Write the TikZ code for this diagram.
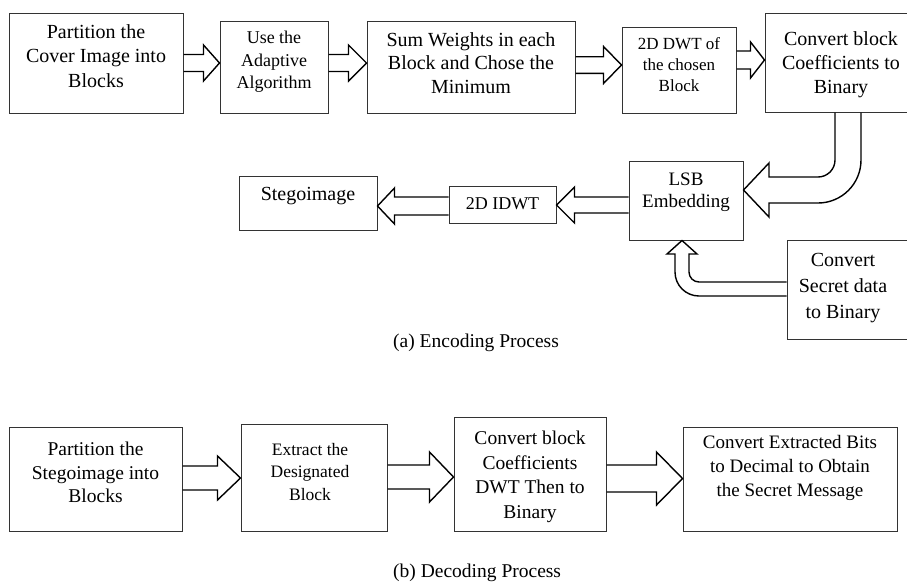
\documentclass[tikz,border=0pt]{standalone}
\usepackage{fontspec}
\setmainfont{Liberation Serif}
\usetikzlibrary{calc}

\tikzset{
  blk/.style={draw=black!80, line width=1pt, inner sep=0pt, fill=white},
  txt/.style={align=center, inner sep=0pt, anchor=north},
  barrow/.style={draw=black, line width=1.4pt, line join=miter},
  captxt/.style={inner sep=0pt, anchor=base west, font=\fontsize{19.5}{23}\selectfont},
}

% box given by its left, top, right and bottom edges
\newcommand{\mkbox}[5]{%
  \pgfmathsetmacro\bw{#4-#2}\pgfmathsetmacro\bh{#5-#3}%
  \pgfmathsetmacro\bx{(#2+#4)/2}\pgfmathsetmacro\by{(#3+#5)/2}%
  \node[blk, minimum width=\bw pt, minimum height=\bh pt] (#1) at (\bx,\by) {};}

% hollow block arrow pointing right: source, target, y centre, shaft half, head half, head length
\newcommand{\arrR}[6]{%
  \pgfmathsetmacro\ya{#3-#4}\pgfmathsetmacro\yb{#3+#4}%
  \pgfmathsetmacro\yc{#3-#5}\pgfmathsetmacro\yd{#3+#5}%
  \draw[barrow] (#1.east |- 0,\ya) -- ($(#2.west |- 0,\ya)+(-#6,0)$)
    -- ($(#2.west |- 0,\yc)+(-#6,0)$) -- (#2.west |- 0,#3)
    -- ($(#2.west |- 0,\yd)+(-#6,0)$) -- ($(#2.west |- 0,\yb)+(-#6,0)$)
    -- (#1.east |- 0,\yb);}

% hollow block arrow pointing left
\newcommand{\arrL}[6]{%
  \pgfmathsetmacro\ya{#3-#4}\pgfmathsetmacro\yb{#3+#4}%
  \pgfmathsetmacro\yc{#3-#5}\pgfmathsetmacro\yd{#3+#5}%
  \draw[barrow] (#1.west |- 0,\ya) -- ($(#2.east |- 0,\ya)+(#6,0)$)
    -- ($(#2.east |- 0,\yc)+(#6,0)$) -- (#2.east |- 0,#3)
    -- ($(#2.east |- 0,\yd)+(#6,0)$) -- ($(#2.east |- 0,\yb)+(#6,0)$)
    -- (#1.west |- 0,\yb);}

\begin{document}
\begin{tikzpicture}[x=1pt, y=-1pt]
\useasboundingbox (0,0) rectangle (907,582);
\fill[white] (0,0) rectangle (907,582);
\clip (0,0) rectangle (907,582);

% ---------- encoding: top row ----------
\mkbox{b1}{9}{13}{183}{113}
\mkbox{b2}{220}{21}{328}{113}
\mkbox{b3}{367}{21}{575}{113}
\mkbox{b4}{622}{27}{736}{113}
\mkbox{b5}{765}{13}{930}{112}

\node[txt, font=\fontsize{20}{24.5}\selectfont] (b1t) at (b1.north |- 0,24) {Partition the\\Cover Image into\\Blocks};
\node[txt, font=\fontsize{18}{22.5}\selectfont] (b2t) at (b2.north |- 0,31) {Use the\\Adaptive\\Algorithm};
\node[txt, font=\fontsize{20}{23.5}\selectfont] (b3t) at (b3.north |- 0,32) {Sum Weights in each\\Block and Chose the\\Minimum};
\node[txt, font=\fontsize{17}{21}\selectfont] (b4t) at (b4.north |- 0,37) {2D DWT of\\the chosen\\Block};
\node[txt, font=\fontsize{20}{24}\selectfont] (b5t) at (841,31) {Convert block\\Coefficients to\\Binary};

\arrR{b1}{b2}{63}{8.5}{18}{16}
\arrR{b2}{b3}{63}{8.5}{18}{18}
\arrR{b3}{b4}{65}{8.3}{18.5}{18}
\arrR{b4}{b5}{60}{9}{18}{14}

% ---------- encoding: second row ----------
\mkbox{stego}{239}{176}{377}{230}
\mkbox{idwt}{449}{186}{556}{223}
\mkbox{lsb}{629}{161}{743}{240}
\mkbox{sec}{787}{240}{930}{339}

\node[txt, font=\fontsize{20}{24}\selectfont] (stegot) at (stego.north |- 0,187) {Stegoimage};
\node[txt, font=\fontsize{18}{22}\selectfont] (idwtt) at (idwt.north |- 0,197) {2D IDWT};
\node[txt, font=\fontsize{19}{22}\selectfont] (lsbt) at (lsb.north |- 0,173) {LSB\\Embedding};
\node[txt, font=\fontsize{20}{26}\selectfont] (sect) at (843,253) {Convert\\Secret data\\to Binary};

\arrL{lsb}{idwt}{205}{8}{18}{18}
\arrL{idwt}{stego}{206}{9}{18}{17}

% bent arrow from the coefficients box down into the embedding box
\draw[barrow] (b5.south -| 835,0) [rounded corners=17] -- (835,177) [sharp corners]
  -- (769,177) -- (769,163) -- (lsb.east |- 0,190) -- (769,217) -- (769,203)
  [rounded corners=43] -- (861,203) [sharp corners] -- (b5.south -| 861,0);

% bent arrow from the secret data box up into the embedding box
\draw[barrow] (sec.west |- 0,282) [rounded corners=10] -- (689,282) [sharp corners]
  -- (689,254) -- (697,254) -- (lsb.south -| 682,0) -- (667,254) -- (675,254)
  [rounded corners=24] -- (675,296) [sharp corners] -- (sec.west |- 0,296);

\node[captxt] (capa) at (393,347) {(a) Encoding Process};

% ---------- decoding row ----------
\mkbox{c1}{9}{427}{182}{531}
\mkbox{c2}{241}{424}{387}{531}
\mkbox{c3}{454}{417}{606}{531}
\mkbox{c4}{683}{427}{897}{531}

\node[txt, font=\fontsize{19.5}{23.5}\selectfont] (c1t) at (c1.north |- 0,442) {Partition the\\Stegoimage into\\Blocks};
\node[txt, font=\fontsize{17.5}{22.5}\selectfont] (c2t) at (310,443) {Extract the\\Designated\\Block};
\node[txt, font=\fontsize{19.5}{24.5}\selectfont] (c3t) at (c3.north |- 0,431) {Convert block\\Coefficients\\DWT Then to\\Binary};
\node[txt, font=\fontsize{19}{24}\selectfont] (c4t) at (c4.north |- 0,435) {Convert Extracted Bits\\to Decimal to Obtain\\the Secret Message};

\arrR{c1}{c2}{478}{12}{22}{23}
\arrR{c2}{c3}{477}{12}{25}{24}
\arrR{c3}{c4}{478.5}{13.5}{26.5}{26}

\node[captxt] (capb) at (393,577) {(b) Decoding Process};
\end{tikzpicture}
\end{document}
